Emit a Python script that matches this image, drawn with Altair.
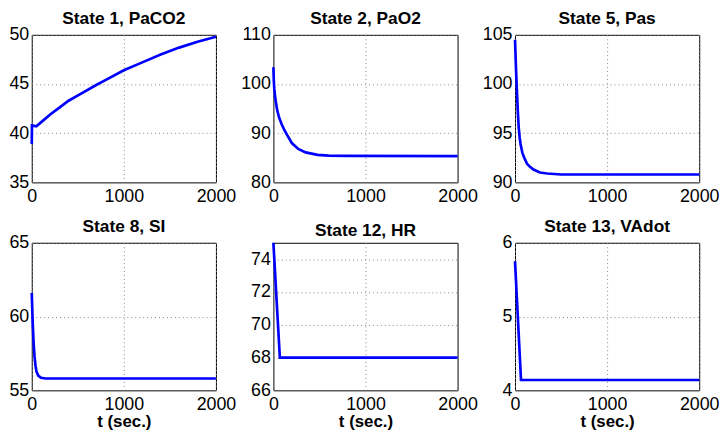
import altair as alt
import pandas as pd

# ---- data ----
t_paco2 = [0, 2, 50, 100, 200, 300, 400, 550, 700, 800, 1000, 1200, 1400, 1600, 1800, 2000]
v_paco2 = [38.9, 40.8, 40.7, 41.1, 41.9, 42.6, 43.3, 44.1, 44.9, 45.4, 46.4, 47.2, 48.0, 48.7, 49.3, 49.8]

t_pao2 = [0, 5, 10, 20, 40, 60, 90, 120, 150, 200, 270, 350, 480, 600, 800, 2000]
v_pao2 = [103.4, 100.5, 99.0, 97.2, 94.8, 93.3, 91.8, 90.6, 89.6, 88.0, 86.8, 86.1, 85.6, 85.45, 85.4, 85.35]

t_pas = [0, 10, 20, 30, 40, 50, 60, 80, 100, 130, 160, 200, 270, 350, 500, 2000]
v_pas = [104.5, 101.7, 99.4, 97.3, 95.6, 94.6, 93.9, 93.0, 92.5, 91.9, 91.6, 91.3, 91.0, 90.9, 90.8, 90.8]

t_si = [0, 5, 10, 20, 30, 40, 50, 70, 100, 150, 2000]
v_si = [61.6, 60.6, 59.6, 58.2, 57.3, 56.7, 56.3, 56.0, 55.85, 55.8, 55.8]

t_hr = [0, 70, 2000]
v_hr = [75.0, 68.0, 68.0]

t_va = [0, 65, 2000]
v_va = [5.75, 4.14, 4.14]

titles = ["State 1, PaCO2", "State 2, PaO2", "State 5, Pas",
          "State 8, SI", "State 12, HR", "State 13, VAdot"]
series_t = [t_paco2, t_pao2, t_pas, t_si, t_hr, t_va]
series_v = [v_paco2, v_pao2, v_pas, v_si, v_hr, v_va]
y_domains = [[35, 50], [80, 110], [90, 105], [55, 65], [66, 75], [4, 6]]
y_ticks = [[35, 40, 45, 50], [80, 90, 100, 110], [90, 95, 100, 105],
           [55, 60, 65], [66, 68, 70, 72, 74], [4, 5, 6]]
x_ticks = [0, 1000, 2000]
x_label = "t (sec.)"

FONT = "Liberation Sans"


def panel(i):
    df = pd.DataFrame({"t": series_t[i], "v": series_v[i]})
    bottom = i >= 3
    x_axis = alt.Axis(values=x_ticks, title=x_label if bottom else None,
                      labelFlush=False, labelPadding=5, titlePadding=1,
                      labelOverlap=False, labelExpr="toString(datum.value)")
    y_axis = alt.Axis(values=y_ticks[i], title=None, labelPadding=3,
                      labelOverlap=False, labelExpr="toString(datum.value)")
    return (
        alt.Chart(df, title=alt.Title(titles[i]))
        .mark_line(color="#0000ff", strokeWidth=2.7)
        .encode(
            x=alt.X("t:Q", scale=alt.Scale(domain=[0, 2000], nice=False), axis=x_axis),
            y=alt.Y("v:Q", scale=alt.Scale(domain=y_domains[i], nice=False, zero=False), axis=y_axis),
        )
        .properties(width=186, height=149)
    )


chart = (
    alt.concat(*[panel(i) for i in range(6)], columns=3, bounds="flush")
    .properties(padding={"left": 0, "top": 0, "right": 0, "bottom": 0},
                background="white", spacing={"row": 61, "column": 58})
    .configure_view(stroke="black", strokeWidth=1)
    .configure_axis(
        domain=False, ticks=False, tickSize=0,
        labelFont=FONT, labelFontSize=18, labelColor="black",
        titleFont=FONT, titleFontSize=17, titleFontWeight="bold", titleColor="black",
        gridColor="#888888", gridDash=[1, 3], gridWidth=1, gridOpacity=1,
    )
    .configure_title(font=FONT, fontSize=17.5, fontWeight="bold", color="black", offset=-2)
)

chart.save("out.html", embed_options={"renderer": "svg", "actions": False})
